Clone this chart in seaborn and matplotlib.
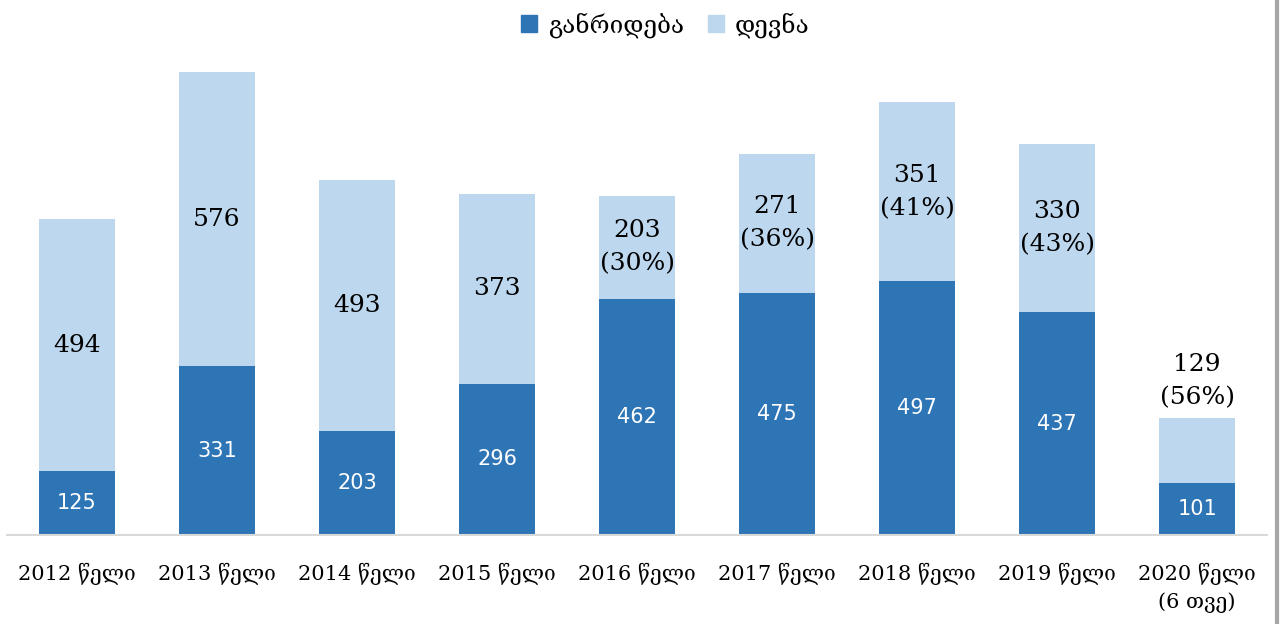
import numpy as np
import pandas as pd
import seaborn as sns
import matplotlib.pyplot as plt
from matplotlib.patches import Patch

# data
years = ["2012 წელი", "2013 წელი", "2014 წელი", "2015 წელი", "2016 წელი",
         "2017 წელი", "2018 წელი", "2019 წელი", "2020 წელი\n(6 თვე)"]
diversion = [125, 331, 203, 296, 462, 475, 497, 437, 101]   # განრიდება
prosecution = [494, 576, 493, 373, 203, 271, 351, 330, 129]  # დევნა
pct = [None, None, None, None, "30%", "36%", "41%", "43%", "56%"]

df = pd.DataFrame({"year": years, "div": diversion, "pros": prosecution})
df["total"] = df["div"] + df["pros"]

dark = "#2E75B6"
light = "#BDD7EE"
serif = ["DejaVu Serif", "DejaVu Sans"]

sns.set_style("white")
plt.rcParams["font.family"] = serif
plt.rcParams["text.color"] = "black"
plt.rcParams["xtick.color"] = "black"

fig = plt.figure(figsize=(12.82, 6.24), dpi=100)
ax = fig.add_axes([0.0055, 0.1426, 0.983, 0.777])

# total bar first (light), then the lower part (dark) on top of it
sns.barplot(data=df, x="year", y="total", color=light, width=0.54,
            saturation=1, linewidth=0, ax=ax)
sns.barplot(data=df, x="year", y="div", color=dark, width=0.54,
            saturation=1, linewidth=0, ax=ax)

ax.set_xlim(-0.5, 8.5)
ax.set_ylim(0, 950)
ax.set_xlabel("")
ax.set_ylabel("")
ax.set_yticks([])
for s in ["top", "left", "right"]:
    ax.spines[s].set_visible(False)
ax.spines["bottom"].set_color("#D9D9D9")
ax.spines["bottom"].set_linewidth(1.5)
ax.tick_params(axis="x", length=0, pad=20, labelsize=15, labelcolor="black")
for t in ax.get_xticklabels():
    t.set_family(serif)
    t.set_linespacing(1.45)

for i, row in df.iterrows():
    ax.text(i, row["div"] / 2, str(row["div"]), ha="center", va="center",
            color="white", fontsize=15, family=["DejaVu Sans"])
    lab = str(row["pros"]) if pct[i] is None else f"{row['pros']}\n({pct[i]})"
    if i == 8:
        ax.text(i, row["total"] + 72, lab, ha="center", va="center",
                fontsize=18, linespacing=1.55, color="black")
    else:
        ax.text(i, row["div"] + row["pros"] / 2, lab, ha="center", va="center",
                fontsize=18, linespacing=1.55, color="black")

handles = [Patch(color=dark, label="განრიდება"), Patch(color=light, label="დევნა")]
fig.legend(handles=handles, loc="upper center", bbox_to_anchor=(0.519, 1.016),
           ncol=2, frameon=False, fontsize=17.5, handlelength=0.65,
           handleheight=0.65, handletextpad=0.45, columnspacing=1.0,
           labelcolor="black")

# right-hand frame line as in the source image
fig.add_artist(plt.Line2D([0.996, 0.996], [0, 1], color="#A6A6A6", lw=3,
                          transform=fig.transFigure))

fig.savefig("out.png", dpi=100)
